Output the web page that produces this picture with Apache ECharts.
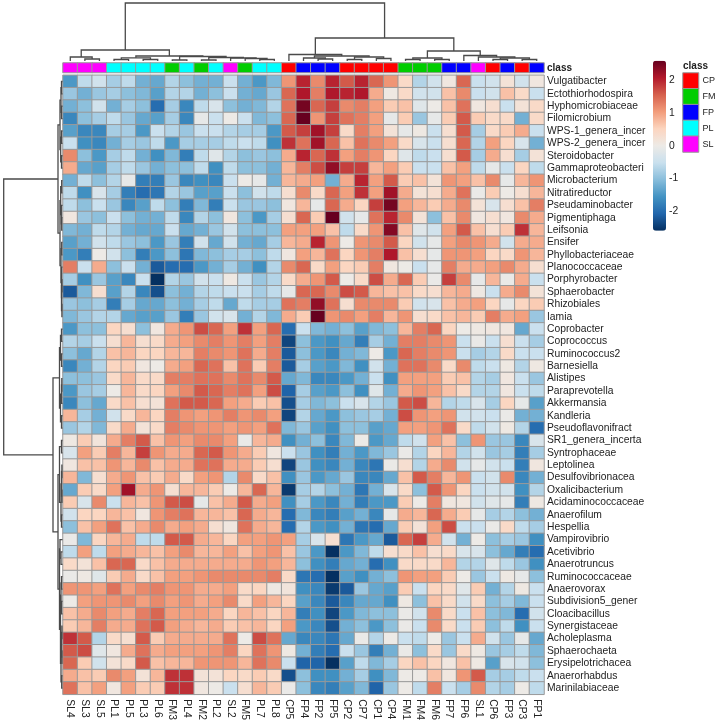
<!DOCTYPE html>
<html><head><meta charset="utf-8">
<style>html,body{margin:0;padding:0;background:#fff}#c{width:716px;height:720px}</style>
<script src="https://cdn.jsdelivr.net/npm/echarts@6/dist/echarts.min.js"></script>
</head><body><div id="c"></div>
<script>
const columns=['SL4','SL3','SL5','PL1','PL5','PL3','PL6','FM3','PL4','FM2','PL2','SL2','FM5','PL7','PL8','CP5','FP4','FP2','FP5','CP2','CP7','CP1','CP4','FM1','FM4','FM6','FP7','FP6','SL1','CP6','FP3','CP3','FP1'];
const columnClass=['SL','SL','SL','PL','PL','PL','PL','FM','PL','FM','PL','SL','FM','PL','PL','CP','FP','FP','FP','CP','CP','CP','CP','FM','FM','FM','FP','FP','SL','CP','FP','CP','FP'];
const rowNames=['Vulgatibacter','Ectothiorhodospira','Hyphomicrobiaceae','Filomicrobium','WPS-1_genera_incer','WPS-2_genera_incer','Steroidobacter','Gammaproteobacteri','Microbacterium','Nitratireductor','Pseudaminobacter','Pigmentiphaga','Leifsonia','Ensifer','Phyllobacteriaceae','Planococcaceae','Porphyrobacter','Sphaerobacter','Rhizobiales','Iamia','Coprobacter','Coprococcus','Ruminococcus2','Barnesiella','Alistipes','Paraprevotella','Akkermansia','Kandleria','Pseudoflavonifract','SR1_genera_incerta','Syntrophaceae','Leptolinea','Desulfovibrionacea','Oxalicibacterium','Acidaminococcaceae','Anaerofilum','Hespellia','Vampirovibrio','Acetivibrio','Anaerotruncus','Ruminococcaceae','Anaerovorax','Subdivision5_gener','Cloacibacillus','Synergistaceae','Acholeplasma','Sphaerochaeta','Erysipelotrichacea','Anaerorhabdus','Marinilabiaceae'];
const values=[
[-1.5,-.6,-.4,-.8,-.6,-1.2,-1.3,-.7,-1,-1.2,-1.2,-.5,-1.2,-1.5,-1.1,1.1, 2,1.2,2,1.6,2,1.5,1.1,.4,-.7,-.4,.1,1.5,-.5,-.4,.2,-.4,.1],
[-.9,-1.2,-.9,-.8,-1,-1.1,-1.4,-.7,-.7,-1.2,-1,-.5,-1.2,-1.3,-.9,1.5, 2.1,1.3,2.1,2,2.1,.9,.05,.4,-.4,-.4,.7,1.2,-.5,-.4,.7,.4,-.5],
[-1.2,-1,-.4,-1.2,-.8,-1,-2,-.8,-1.7,-.6,-.3,-1,-1.2,-1.1,-.7,1.4, 2.5,1.5,1.8,1.2,1.3,1,.6,.7,-.2,0,.7,1.4,.1,.3,-.5,.2,.4],
[-1.7,-1,-.8,-.6,-.9,-1.3,-1.4,-.8,-1.7,-.1,-.5,0,-.5,-1.1,-1,1.5, 2.6,1.1,1.8,1.4,1.3,1,-.1,.6,-.9,-.1,.6,1.6,.6,.4,.4,-1.2,.4],
[-1.4,-1.7,-1.7,-.8,-.8,-1.5,-.5,-.7,-.9,-.5,-.5,-.7,-.8,-.8,-1.5,1.6, 1.8,2.2,1.8,.4,1.3,1,.2,-.1,.05,-.5,.3,1.6,-.8,.4,.6,.9,-.5],
[-.5,-1.6,-1.7,-1.2,-.8,-.9,-.6,-1.5,-.8,-.8,-.8,-.6,-.5,-.6,-1.6,1.9, 1.4,2.2,1.5,.7,1.4,1.2,1,.4,-.3,-.5,.3,1.5,-.7,1,.5,-.3,-1.2],
[1.2,-1,-1.5,-.8,-.6,-1.2,-1.6,-1.1,-1.8,-.6,-.2,-.7,-1,-.9,-1,.9, 2,1.5,1.9,1,1.3,1.1,.5,-.2,-.6,-.5,.3,1.6,-.8,.9,.3,-.8,.2],
[.9,-1.3,-1.4,-.8,-.6,-.9,-1.2,-1,-1,-.6,-1.6,-.6,-1,-1,-1.2,.8, 1.3,1.7,2.3,1.8,1.8,.8,1,.6,-.5,-.5,.7,1,-.6,-.1,-.5,.5,-.6],
[-1.2,-.6,-1,-.7,-.1,-1.8,-1.8,-.9,-1.7,-1.6,-1.7,-.5,0,-.1,-1.2,.8, .9,1,-1.2,.9,2,1,1.6,.6,.7,.2,1.1,1,.7,1.2,-.1,.8,1.1],
[-.6,-1.6,-.3,-.8,-1.8,-2,-1.9,-.7,-.9,-1.4,-1.4,-.5,-1,-.4,-.6,.3, 1.2,.4,1.5,1,1.9,1,2.2,.9,.2,.3,.9,1.4,-.05,.6,0,.3,.8],
[-.6,-1,-.5,-.9,-1.7,-1.4,-.6,-1,-1.8,-1.1,-1.8,-.5,-.9,-.9,-1,.1, .8,-.1,1.5,.9,.5,1.8,2.5,1,.8,.6,.9,1.2,.2,-.3,.3,.7,1.3],
[.1,-.9,-1,-.5,-1,-1.2,-1.2,-.6,-1.7,-.7,-1,.1,-1,-1.5,-.8,.3, 1.5,.6,2.6,-.4,-.1,1.4,2,1.2,.2,-1,.7,1.2,.1,.3,.1,1.2,.9],
[-1.1,-1.2,-.6,-.7,-1.2,-1.3,-1.3,-.5,-1.3,-1.2,-.9,-.4,-1,-1,-1,1, 1,1,.7,-.6,.4,1.1,2.4,.7,-.2,-.4,1,1.6,.7,.3,.6,1.9,.8],
[-1.4,-1.2,-.4,-.6,-.9,-1,-1.5,-.9,-1.8,-.4,-1.3,-.4,-1.2,-1.3,-.8,.8, .9,2,1.1,0,1.1,1.2,1.6,.5,-.4,-.1,1,1.2,1.1,.9,-.4,.9,.9],
[-1.5,-1.8,0,-.4,-1,-1.8,-1.5,-1,-1.9,-1.1,-1,-.8,-.8,-1,-.6,.1, 1,.8,1.4,.5,1.1,1.3,2.1,.7,.3,-.1,1.1,1.1,1,.5,.4,1.1,.8],
[1.3,-.5,.9,-1,-.5,-1.2,-2.2,-2,-2,-1.5,-1.2,-.8,-1.2,-1.6,-.7,1.2, 1.5,.4,1,.5,.6,1.3,.1,0,-.5,-.1,1.3,.9,.9,1,1.2,.9,.3],
[-.8,-1.6,-.9,-1.4,-1.7,-.5,-2.6,-.7,-.9,-.4,-.5,.05,-.5,-.9,-.7,.4, .9,1.1,1.6,0,.4,1.7,.9,1.5,.6,-.05,1.8,1.2,-.1,.8,-.05,.9,-.5],
[-2.2,-1.1,.3,-1.4,-.7,-1.7,-2.3,-1,-1.2,-.7,-.6,-.5,-.5,-.8,-.6,-.1, 1.5,1.5,1.2,1.7,1.6,.8,.7,.7,.4,.3,.8,.9,.05,-.5,.9,1.2,.2],
[-.9,-1,-.8,-1.8,-.8,-1.3,-1.3,-1,-1.2,-.8,-.6,-1.3,-.6,-.8,-.8,1.4, 1.3,2.3,1.4,.3,1.2,1.2,1.2,.6,-.4,-.3,.7,.9,1,.5,-.1,.5,.6],
[-1.1,-.9,-.7,-.7,-1.3,-1.4,-1.4,-.9,-1.8,-.9,-.4,-.3,-1.2,-.7,-1.1,.9, .6,2.6,1.1,1.2,1,1.3,.8,1.1,.3,.4,.7,.8,.6,1.3,.9,1,-.9],
[-1.5,-1,-1,.5,.3,-1,.1,.9,1.1,1.7,1.5,1,1.9,1,1.5,-2, -.5,-1.1,-1.2,-1,-1.4,-1.1,-1,.8,1.3,1.5,.5,0,.05,.1,.1,-1.3,-.5],
[-.7,-.8,-.5,.3,.8,.3,.4,.9,1,1.2,1.3,1.1,1.3,1,1.3,-2.4, -1,-1.5,-1.6,-1.3,-1.8,-.8,-1.2,1.3,1.3,1.2,1.1,-.5,-.05,-.5,.3,-.5,-.8],
[-1,-1.3,-.7,.7,.8,.5,.5,.8,.8,1.3,1.2,1.1,1.4,.9,1.3,-2.2, -1,-1.5,-1.7,-1.2,-1.1,0,-1.5,1.5,1.3,1.2,1.1,-.5,-.8,-.7,.4,-.5,-.5],
[-1.7,-1.2,-.7,.5,.6,.1,0,.9,1,1.5,1.4,.7,1.4,.6,1.3,-2.2, -.8,-1.4,-1.5,-1.1,-1.6,-.4,-1.2,1.4,1.4,1.2,.4,1.2,-.6,-.5,.05,-.7,.05],
[-1,-1,-.9,.4,.8,.4,.4,1.3,1.3,1.4,1.4,1.2,1.4,1.2,1.6,-1.3, -1.1,-1.7,-1.7,-1.5,-1.2,-.5,-1.6,1,1,1,.6,.7,-.7,-.8,.1,-.5,-.9],
[-1.5,-.9,-.8,0,.8,.4,.5,1,1.2,1.6,1.5,1.3,1.4,1,1.7,-2.1, -.8,-1.4,-1.5,-1,-1.6,-.2,-1.2,.9,1.1,1,.7,.4,-.7,-.7,.1,-.5,-.6],
[-1.7,-1,-1.3,.4,.7,.3,.2,1.4,1.6,1.6,1.5,1,.9,.6,.7,-2.3, -.8,-1.1,-1,-.5,-.3,-.7,-.9,1.6,1.7,.8,-.7,-.6,-.3,-.8,.5,-.1,-1.4],
[.8,-.8,-1.2,-.4,.4,.8,.5,1.3,1.1,1,1.1,1.3,1.1,1.2,1,-2.4, -.7,-1.3,-1.5,-1,-.9,-.8,-1.2,1.7,1.1,1,1.1,-.4,-.4,-.5,-.05,-1.2,-1.2],
[-.9,-.7,-1.1,.4,.9,.2,.4,1.3,1.2,1.1,1.1,1,1.1,1,1.4,-1.1, -.9,-1.4,-1.6,-1,-1,-1.4,-1.3,1,1,1.1,1.4,.4,-.6,-.4,.05,-.7,-2],
[.05,.6,.15,.9,1.3,1.6,.7,1.1,1,1.2,1.2,1,-.05,.8,.9,-1.6, -1.2,-1,-1.7,-1.1,0,-1.5,-1.3,-.6,-.4,1,.7,-1,1.1,-.9,-.9,-1.7,-.3],
[-.3,1,.6,1.3,.8,1.8,1.1,.9,.9,1.5,1.6,1.1,.9,.6,.1,-.5, -.9,-1.6,-1.8,-1.2,-1.5,-1.1,-.9,-.05,-.7,.5,.8,-.7,-.4,-.9,-.8,-1.8,-.8],
[.1,.7,.7,1.1,.8,1.2,.7,.9,.9,1.4,1.4,.9,.9,.6,.3,-2.4, -.9,-1.6,-1.7,-1.2,-1.7,-1.9,-.05,.3,-.7,.9,1.2,-.4,-.1,-.4,-.5,-1.8,.1],
[.8,-1.1,.3,.9,1.1,.7,.6,.9,.4,1,1.1,-.7,1.2,.4,.7,-1.6, -.9,-1.5,-1.3,-.9,-1.7,-1.7,-1.3,.7,1.6,1.3,.8,1.1,-.5,-.4,1.2,-1.7,-1.2],
[-1.3,.6,.4,1,2.2,.9,1.1,.3,.8,.8,.6,0,.8,1.5,.8,-2.5, -.8,-.7,-1,-1.2,-1.9,-1.2,-.3,.4,-1,1.6,1.1,.5,-.5,-.4,-.4,-1.6,-.7],
[.6,-.3,1.2,-.5,.8,.7,1.1,1.6,1.7,-.1,.7,.9,1.6,.9,1,-1.6, -.8,-1.5,-1.7,-1.2,-1.8,-1.5,-1.5,.6,0,1.3,.1,.1,-.4,-.2,-.1,-1.8,.05],
[-.4,.5,.5,.8,.7,.1,1.1,1.3,1.4,.8,.8,.7,1.5,.9,.8,-2, -1.1,-1.7,-1.8,-1.4,-1.2,-1.7,-.1,.9,.8,1.5,.9,.6,-.1,-.8,-.7,-1,-1.2],
[-1,.7,1,1.4,.7,.9,1.2,.9,1,.9,.3,.1,1.4,.9,.8,-2, -.7,-1.5,-1.6,-1.2,-1.9,-2,-1.3,.6,.2,1,1.7,-.5,-.5,-.05,.4,-.6,-.8],
[-.05,-1.1,.5,.8,.9,-.6,-.6,1.6,1.6,.9,.8,.5,1,1,1.1,1, -.8,-.3,.3,-1.9,-1.5,-1.3,-2.2,1.5,1.8,.9,-.4,-1.2,0,-1,-.8,-.9,-1.6],
[-.6,1,-.6,1,.9,.8,.7,1,1.2,.8,.8,1,.7,1,1.1,.7, -.9,-1.5,-2.6,-1.5,-1.1,-.6,.3,.4,.7,.3,.4,-.3,-.3,-1,-1.3,-1.8,-2],
[.4,.2,.7,1.5,1.5,.4,.7,.9,.9,.9,.9,.9,.9,1.1,1,.8, -1,-1.6,-1.8,-1.3,-1.2,-2,-1.6,.4,.4,.4,.8,-.7,-.7,-.2,-.6,-.9,-1.6],
[-.05,.05,-.2,.6,.9,.4,.7,1,1,1.1,1.2,1.2,1.2,1.2,1.3,.4, -1.9,-2,-2.6,-1.4,-1.6,-1.2,-1,1.1,1,1,.6,0,-.9,-.5,.05,-.1,-1],
[1.1,1.1,1,1.4,1,1.2,1.3,1.1,1.1,.9,.9,1,.4,.5,.05,.15, -1.6,-1.7,-2.5,-2.2,-.9,-1.3,-1.4,.6,-.5,.5,.4,-.2,.6,-1.2,-.7,.05,-.5],
[0,1,1.1,1.1,1.2,1,1.2,1,1.1,.9,1,1.2,.4,1,.8,.5, -1.4,-1.7,-2.2,-1.7,-1.3,-1.3,-1.6,.05,-1,.7,.4,-.4,.4,-1,-.8,-1.1,-.5],
[.7,.9,1.2,1,.9,1.3,1.5,1,1,1,.9,.5,.8,.7,.5,.8, -1.8,-1.6,-2.4,-1.5,-1.1,-1,-1,-.05,-.4,1.2,.4,-.5,.7,-1,-1.1,-2,-.4],
[.6,.8,1.3,.9,.9,1.4,1.6,1,.9,.8,.9,.6,.7,.8,.5,1, -1.5,-1.7,-2.3,-1.2,-1,-1.5,-1,-.05,-.5,1.2,.4,-.5,.6,-1,-.6,-1.6,-.5],
[1.9,1.6,-.7,.4,.3,1.6,.6,.9,.9,.9,.9,1.4,0,1.7,1.4,-1.3, -1.7,-1.7,-1.9,-1.3,-.05,-.7,0,-.5,-.6,0,-.9,-.5,.9,-.4,-.9,-.1,-1.3],
[1.6,1.7,-.2,.1,.9,1.4,.9,1,1,1,1.1,1.3,.5,1.4,1.1,.05, -1.2,-1.8,-2,-.5,-.9,-1.8,-1.2,-.05,-1,.4,-.9,.4,.05,-.9,-.8,-.6,-1.1],
[1.5,.6,-.4,.2,.4,1.6,.7,.8,.8,1.1,1.1,1.1,.8,1.4,1.2,-.5, -2.1,-2.1,-2.6,-1.4,-.6,-1.1,-.8,.5,.7,.5,.1,.7,.05,-1.4,-.3,-.4,-1],
[.9,.7,.6,1.2,1,.2,.8,1.9,1.9,.2,.2,.5,.4,.6,.4,-2.3, -1,-1.6,-1.6,-1.2,-.8,-1.6,-1.1,0,0,.7,.1,1.1,1.6,-.8,-.8,-.6,-.5],
[1.4,.7,1,.1,1,.6,.6,1.9,1.9,.1,0,-.5,.3,.8,.6,-.05, -1,-1.7,-1.8,-1.4,-1.1,-2.1,-.9,0,-.6,1.3,-.5,-.8,1.2,-.7,-.8,0,-.6]
];
const classes=['CP','FM','FP','PL','SL'];
const classColors=['#FF0000','#00CD00','#0000FF','#00FFFF','#FF00FF'];
const paletteStops=['#053061','#2166AC','#4393C3','#88BDDB','#C9E0EE','#EDEAE6','#FCD5BF','#F29C7A','#D6604D','#B2182B','#67001F'];
const colorTicks=[-2,-1,0,1,2];
// dendrograms: [height, left, right]; leaves are column / row indexes
const colTree=[58,
 [11,[4,0,[2,1,2]],
  [5,[3.2,[1.5,3,4],[1.5,5,6]],
     [4.5,[1,7,8],[3.5,[1,9,10],[3,11,[2.5,12,[1.5,13,14]]]]]]],
 [23,
  [6.5,15,[5,[3,16,[2,17,18]],[4,[1.5,19,20],[2.5,21,22]]]],
  [10,[3,[1.5,23,24],[1.5,25,26]],[5.5,27,[4,28,[3,[1.5,29,30],[1.5,31,32]]]]]]];
const rowTree=[58.8,
 [4.5,
  [2.5,[1.5,[1,0,1],[1,2,3]],[1.8,[1,4,5],[1,6,7]]],
  [2.5,[1.8,[.8,8,9],[1.2,10,[.8,11,12]]],[1.5,[.8,13,14],[1,15,[1,[.6,16,17],[.6,18,19]]]]]],
 [9.5,
  [3,[2,[1,20,21],[1,22,23]],[2,[1,[.7,24,25],26],[1,27,28]]],
  [4.5,
   [3,[1,29,30],[1.5,[1,[.6,31,32],[.6,33,34]],[1,35,36]]],
   [3,[2.5,37,[1.5,38,39]],[2,[1.5,[1,40,41],[1,42,43]],[1.5,[1,[.6,44,45],[.6,46,47]],[.8,48,49]]]]]]];

function flatten(node,out){
  if(typeof node==='number') return {p:node+.5,h:0};
  const a=flatten(node[1],out), b=flatten(node[2],out);
  out.push([a.p,a.h,b.p,b.h,node[0]]);
  return {p:(a.p+b.p)/2,h:node[0]};
}
const colSegs=[], rowSegs=[];
flatten(colTree,colSegs); flatten(rowTree,rowSegs);

const heat=[];
values.forEach((r,y)=>r.forEach((v,x)=>heat.push([x,y,v])));
const annot=columnClass.map((c,i)=>({value:[i,0,1],itemStyle:{color:classColors[classes.indexOf(c)]}}));
const legendCells=classes.map((c,i)=>({value:[0,i,1],itemStyle:{color:classColors[i]}}));
const font='"Liberation Sans"', txt='#222', fs=10.3;
const dendroStyle={stroke:'#4a4a4a',lineWidth:1.3,fill:null};
const hidden=(o)=>Object.assign({show:false},o);
const g=(o)=>Object.assign({outerBoundsMode:'none',containLabel:false},o);

const chart=echarts.init(document.getElementById('c'));
chart.setOption({
 animation:false,backgroundColor:'#fff',
 textStyle:{fontFamily:font},
 grid:[
  g({left:63,top:75.3,width:481,height:619}),
  g({left:63,top:63,width:481,height:9.5}),
  g({left:63,top:3,width:481,height:58}),
  g({left:3.7,top:75.3,width:58.8,height:619}),
  g({left:653,top:60.7,width:13,height:170}),
  g({left:683,top:73,width:15.5,height:79})
 ],
 xAxis:[
  {type:'category',gridIndex:0,data:columns,position:'bottom',axisLine:{show:false},axisTick:{show:false},splitLine:{show:false},
   axisLabel:{rotate:-90,interval:0,margin:5,fontSize:fs,color:txt,fontFamily:font}},
  hidden({type:'category',gridIndex:1,data:columns}),
  hidden({type:'value',gridIndex:2,min:0,max:33}),
  hidden({type:'value',gridIndex:3,min:0,max:58.8,inverse:true}),
  hidden({type:'value',gridIndex:4,min:0,max:1}),
  hidden({type:'category',gridIndex:5,data:['class']})
 ],
 yAxis:[
  {type:'category',gridIndex:0,data:rowNames,inverse:true,position:'right',axisLine:{show:false},axisTick:{show:false},splitLine:{show:false},
   axisLabel:{interval:0,margin:3,fontSize:fs,color:txt,fontFamily:font}},
  {type:'category',gridIndex:1,data:['class'],position:'right',axisLine:{show:false},axisTick:{show:false},
   axisLabel:{margin:3,fontSize:10,fontWeight:'bold',color:txt,fontFamily:font}},
  hidden({type:'value',gridIndex:2,min:0,max:58}),
  hidden({type:'value',gridIndex:3,min:0,max:50,inverse:true}),
  {type:'value',gridIndex:4,min:-2.6,max:2.6,position:'right',splitLine:{show:false},axisLine:{show:false},axisTick:{show:false},
   axisLabel:{margin:3,fontSize:fs,color:txt,fontFamily:font,customValues:colorTicks}},
  {type:'category',gridIndex:5,data:classes,inverse:true,position:'right',axisLine:{show:false},axisTick:{show:false},
   axisLabel:{interval:0,margin:4,fontSize:9,color:txt,fontFamily:font}}
 ],
 visualMap:[{type:'continuous',seriesIndex:0,min:-2.6,max:2.6,left:653,top:60.7,itemWidth:13,itemHeight:170,
   calculable:false,showLabel:false,text:null,padding:0,inRange:{color:paletteStops},hoverLink:false}],
 graphic:[{type:'text',left:683,top:61,style:{text:'class',fontFamily:font,fontSize:10,fontWeight:'bold',fill:txt}}],
 series:[
  {type:'heatmap',xAxisIndex:0,yAxisIndex:0,data:heat,itemStyle:{borderColor:'#999',borderWidth:1},emphasis:{disabled:true}},
  {type:'heatmap',xAxisIndex:1,yAxisIndex:1,data:annot,itemStyle:{borderColor:'#999',borderWidth:1},emphasis:{disabled:true}},
  {type:'custom',xAxisIndex:2,yAxisIndex:2,data:colSegs,silent:true,clip:false,
   renderItem:(p,api)=>{
    const a=api.coord([api.value(0),api.value(1)]),b=api.coord([api.value(0),api.value(4)]),
          c=api.coord([api.value(2),api.value(4)]),d=api.coord([api.value(2),api.value(3)]);
    return {type:'polyline',shape:{points:[a,b,c,d]},style:dendroStyle};
   }},
  {type:'custom',xAxisIndex:3,yAxisIndex:3,data:rowSegs,silent:true,clip:false,
   renderItem:(p,api)=>{
    const a=api.coord([api.value(1),api.value(0)]),b=api.coord([api.value(4),api.value(0)]),
          c=api.coord([api.value(4),api.value(2)]),d=api.coord([api.value(3),api.value(2)]);
    return {type:'polyline',shape:{points:[a,b,c,d]},style:dendroStyle};
   }},
  {type:'heatmap',xAxisIndex:4,yAxisIndex:4,data:[],silent:true},
  {type:'heatmap',xAxisIndex:5,yAxisIndex:5,data:legendCells,itemStyle:{borderColor:'#999',borderWidth:1},emphasis:{disabled:true}}
 ]
});
</script></body></html>
